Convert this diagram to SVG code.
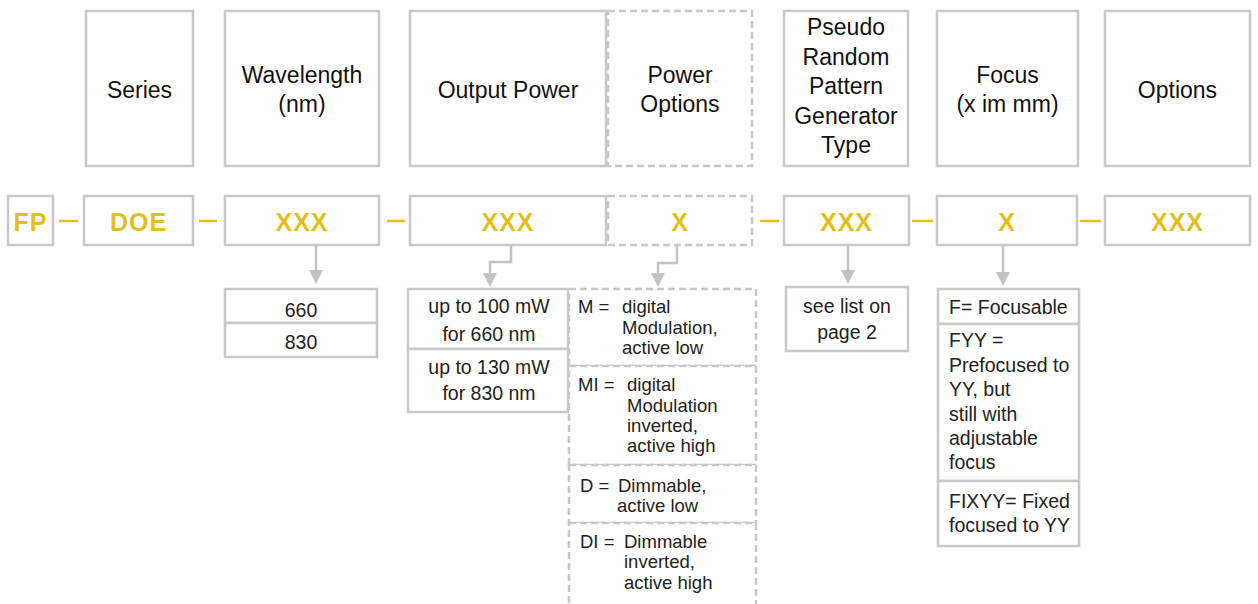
<svg xmlns="http://www.w3.org/2000/svg" width="1258" height="604" viewBox="0 0 1258 604">
<defs>
<style>
.b{fill:#fff;stroke:#c8c8c8;stroke-width:2.5}
.d{fill:#fff;stroke:#c8c8c8;stroke-width:2.5;stroke-dasharray:7 4}
.h{font-family:"Liberation Sans",Arial,sans-serif;font-size:23px;fill:#111;text-anchor:middle}
.c{font-family:"Liberation Sans",Arial,sans-serif;font-size:25px;font-weight:bold;fill:#e3bf1e;text-anchor:middle;letter-spacing:1px}
.t{font-family:"Liberation Sans",Arial,sans-serif;font-size:19.5px;fill:#222}
.p{font-size:18.5px}
.m{text-anchor:middle}
.y{stroke:#e3bf1e;stroke-width:2.5;fill:none}
.a{fill:none;stroke:#c3c3c3;stroke-width:2.5}
</style>
<marker id="ah" viewBox="0 0 14 14" refX="0" refY="7" markerWidth="14" markerHeight="14" markerUnits="userSpaceOnUse" orient="auto">
<path d="M0,0 L14,7 L0,14 z" fill="#c3c3c3"/>
</marker>
</defs>
<rect width="1258" height="604" fill="#fff"/>

<!-- header row -->
<g id="h-series"><rect class="b" x="86" y="11" width="107" height="155"/><text class="h" x="139.5" y="98">Series</text></g>
<g id="h-wavelength"><rect class="b" x="225" y="11" width="154" height="155"/><text class="h" x="302" y="83">Wavelength</text><text class="h" x="302" y="112">(nm)</text></g>
<g id="h-output"><rect class="b" x="410" y="11" width="196" height="155"/><text class="h" x="508" y="98">Output Power</text></g>
<g id="h-poweropt"><rect class="d" x="608" y="11" width="144" height="155"/><text class="h" x="680" y="83">Power</text><text class="h" x="680" y="112">Options</text></g>
<g id="h-prpg"><rect class="b" x="784" y="11" width="124" height="155"/><text class="h" x="846" y="35">Pseudo</text><text class="h" x="846" y="64.5">Random</text><text class="h" x="846" y="94">Pattern</text><text class="h" x="846" y="123.5">Generator</text><text class="h" x="846" y="153">Type</text></g>
<g id="h-focus"><rect class="b" x="937" y="11" width="141" height="155"/><text class="h" x="1007.5" y="83">Focus</text><text class="h" x="1007.5" y="112">(x im mm)</text></g>
<g id="h-options"><rect class="b" x="1105" y="11" width="145" height="155"/><text class="h" x="1177.5" y="98">Options</text></g>

<!-- code row -->
<g id="c-fp"><rect class="b" x="8" y="196" width="45" height="49"/><text class="c" x="30.5" y="231">FP</text></g>
<g id="c-doe"><rect class="b" x="84" y="196" width="109" height="49"/><text class="c" x="138.5" y="231">DOE</text></g>
<g id="c-wl"><rect class="b" x="225" y="196" width="154" height="49"/><text class="c" x="302" y="231">XXX</text></g>
<g id="c-out"><rect class="b" x="410" y="196" width="196" height="49"/><text class="c" x="508" y="231">XXX</text></g>
<g id="c-popt"><rect class="d" x="608" y="196" width="144" height="49"/><text class="c" x="680" y="231">X</text></g>
<g id="c-prpg"><rect class="b" x="784" y="196" width="125" height="49"/><text class="c" x="846.5" y="231">XXX</text></g>
<g id="c-focus"><rect class="b" x="937" y="196" width="140" height="49"/><text class="c" x="1007" y="231">X</text></g>
<g id="c-options"><rect class="b" x="1105" y="196" width="145" height="49"/><text class="c" x="1177.5" y="231">XXX</text></g>

<!-- connectors -->
<g id="connectors">
<path class="y" d="M59,221H78 M199,221H217 M387,221H405 M760,221H779 M912,221H933 M1080,221H1101"/>
<path class="a" d="M316,246V270" marker-end="url(#ah)"/>
<path class="a" d="M511,246V262H490V273" marker-end="url(#ah)"/>
<path class="a" d="M677,246V263H658V273" marker-end="url(#ah)"/>
<path class="a" d="M848,246V270" marker-end="url(#ah)"/>
<path class="a" d="M1003,246V272" marker-end="url(#ah)"/>
</g>

<!-- lists -->
<g id="l-wavelength">
<rect class="b" x="225" y="289" width="152" height="34"/><text class="t m" x="301" y="317">660</text>
<rect class="b" x="225" y="323" width="152" height="34"/><text class="t m" x="301" y="349">830</text>
</g>
<g id="l-output">
<rect class="b" x="408" y="289" width="160" height="60"/><text class="t m" x="489" y="313">up to 100 mW</text><text class="t m" x="489" y="341">for 660 nm</text>
<rect class="b" x="408" y="349" width="160" height="63"/><text class="t m" x="489" y="374">up to 130 mW</text><text class="t m" x="489" y="400">for 830 nm</text>
</g>
<g id="l-poweropt">
<rect class="d" x="569" y="289" width="187" height="77"/>
<rect class="d" x="569" y="366" width="187" height="99"/>
<rect class="d" x="569" y="465" width="187" height="58"/>
<rect class="d" x="569" y="523" width="187" height="95"/>
<text class="t p" x="578" y="313">M = <tspan x="622">digital</tspan></text>
<text class="t p" x="622" y="334">Modulation,</text>
<text class="t p" x="622" y="354">active low</text>
<text class="t p" x="578" y="391">MI = <tspan x="627">digital</tspan></text>
<text class="t p" x="627" y="412">Modulation</text>
<text class="t p" x="627" y="432">inverted,</text>
<text class="t p" x="627" y="452">active high</text>
<text class="t p" x="580" y="492">D = <tspan x="618">Dimmable,</tspan></text>
<text class="t p" x="617" y="512">active low</text>
<text class="t p" x="580" y="548">DI = <tspan x="624">Dimmable</tspan></text>
<text class="t p" x="624" y="568">inverted,</text>
<text class="t p" x="624" y="589">active high</text>
</g>
<g id="l-prpg">
<rect class="b" x="786" y="287" width="122" height="64"/><text class="t m" x="847" y="313">see list on</text><text class="t m" x="847" y="339">page 2</text>
</g>
<g id="l-focus">
<rect class="b" x="938" y="289" width="141" height="35"/><text class="t" x="949" y="314">F= Focusable</text>
<rect class="b" x="938" y="324" width="141" height="157"/>
<text class="t" x="949" y="347">FYY =</text>
<text class="t" x="949" y="372">Prefocused to</text>
<text class="t" x="949" y="396">YY, but</text>
<text class="t" x="949" y="421">still with</text>
<text class="t" x="949" y="445">adjustable</text>
<text class="t" x="949" y="469">focus</text>
<rect class="b" x="938" y="481" width="141" height="65"/><text class="t" x="949" y="508">FIXYY= Fixed</text><text class="t" x="949" y="532">focused to YY</text>
</g>
</svg>
